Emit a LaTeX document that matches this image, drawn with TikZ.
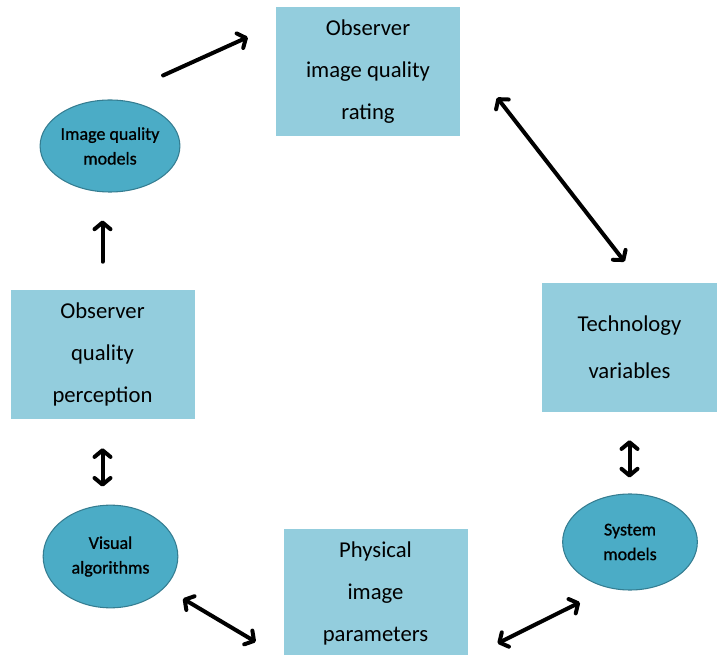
\documentclass[tikz,border=0pt]{standalone}
\usepackage{fontspec}
\setmainfont{Carlito}
\newfontfamily\ovalfont[FakeBold=0.9]{Carlito}
\usetikzlibrary{shapes.geometric,arrows.meta}
\definecolor{boxblue}{HTML}{93CDDD}
\definecolor{ovalblue}{HTML}{4BACC6}
\definecolor{ovalline}{HTML}{357D91}
\tikzset{
  box/.style={fill=boxblue, minimum width=138pt, minimum height=96.75pt, inner sep=0pt, align=center, font=\fontsize{17}{31.5}\selectfont},
  oval/.style={ellipse, draw=ovalline, line width=0.8pt, fill=ovalblue, minimum width=101pt, minimum height=69pt, inner sep=0pt, align=center, font=\ovalfont\fontsize{13.5}{18.5}\selectfont},
  arr/.style={line width=3pt, line cap=round, ->},
  darr/.style={arr, <->}
}
\begin{document}
\begin{tikzpicture}[x=0.75pt, y=-0.75pt, >={Straight Barb[length=5pt,width=12pt,line cap=round,line join=round]}]
	\useasboundingbox (0,0) rectangle (717,655);
	% boxes
	\node[box] (rating) at (368,71.5) {Observer\\image quality\\rating};
	\node[box] (percep) at (102.5,354.5) {Observer\\quality\\perception};
	\node[box, minimum width=131.25pt, font=\fontsize{17}{35}\selectfont] (tech) at (629.5,347.5) {Technology\\variables};
	\node[box] (phys) at (375.5,593.5) {Physical\\image\\parameters};
	% ovals
	\node[oval] (iqm) at (110,146) {Image quality\\models};
	\node[oval, minimum height=77pt] (vis) at (110.5,556.5) {Visual\\algorithms};
	\node[oval, minimum height=72pt] (sys) at (630,542) {System\\models};
	% arrows
	\draw[arr, shorten <=43.7pt, shorten >=23pt] (iqm.north) -- (rating.153);
	\draw[arr, shorten <=21pt, shorten >=21pt] (percep.north) -- (percep.north |- iqm.south);
	\draw[darr, shorten <=45pt, shorten >=20pt] (rating.13) -- (tech.80);
	\draw[darr, shorten <=21.75pt, shorten >=13.5pt] (percep.south) -- (percep.south |- vis.north);
	\draw[darr, shorten <=16pt, shorten >=24pt] (vis.-30) -- (phys.south west);
	\draw[darr, shorten <=25pt, shorten >=24pt] (phys.south east) -- (sys.245);
	\draw[darr, shorten <=21pt, shorten >=12pt] (tech.south) -- (tech.south |- sys.north);
\end{tikzpicture}
\end{document}
